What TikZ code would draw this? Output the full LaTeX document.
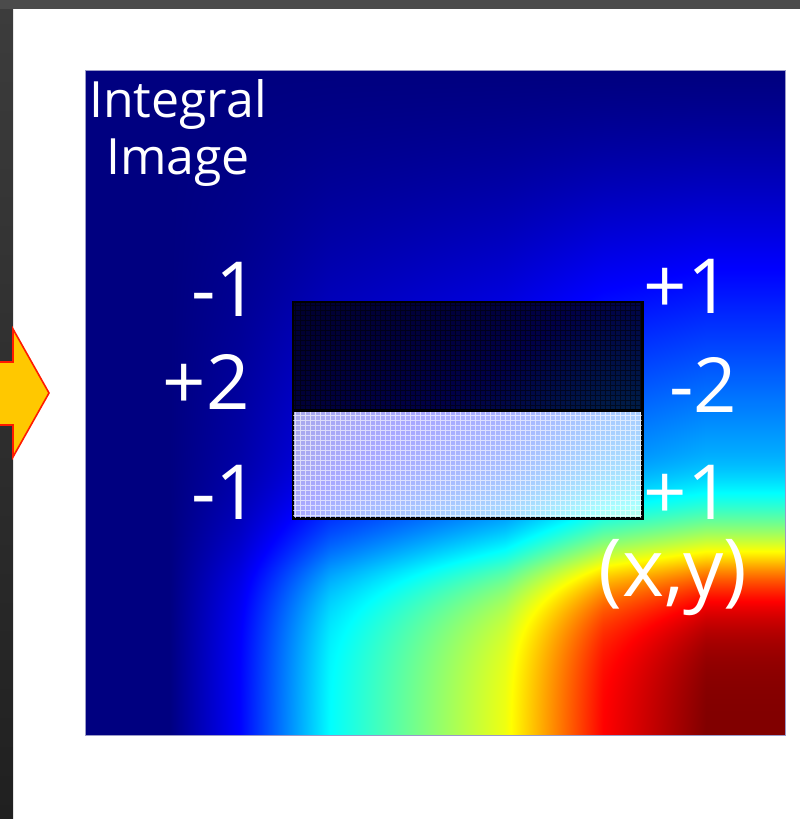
\documentclass[tikz,border=0pt]{standalone}
\usepackage{fontspec}
\setmainfont{Open Sans}
\usepackage{tikz}
\usetikzlibrary{positioning}
\definecolor{frametop}{HTML}{4B4B4B}
\definecolor{frameside}{HTML}{3C3C3C}
\definecolor{framelow}{HTML}{202020}
\definecolor{arrowfill}{HTML}{FFC800}
\definecolor{arrowedge}{HTML}{FF1A00}
\definecolor{imgedge}{HTML}{9A9AC8}

% jet colour map over a field that grows to the lower right
\pgfdeclarefunctionalshading{jetfield}{\pgfpointorigin}{\pgfpoint{100bp}{100bp}}{}{%
  exch 25 sub 50 div
  0
  1 index 0.12 sub 10 mul dup 0 lt {pop 0} if dup 1 gt {pop 1} if 0.125 mul add
  1 index 0.22 sub 7.6923 mul dup 0 lt {pop 0} if dup 1 gt {pop 1} if 0.25 mul add
  1 index 0.35 sub 4 mul dup 0 lt {pop 0} if dup 1 gt {pop 1} if 0.235 mul add
  1 index 0.6 sub 7.1429 mul dup 0 lt {pop 0} if dup 1 gt {pop 1} if 0.265 mul add
  1 index 0.74 sub 6.8 mul dup 0 lt {pop 0} if dup 1 gt {pop 1} if 0.125 mul add
  exch pop
  exch
  75 exch sub 50 div
  dup 0 lt {pop 0} if
  dup 1.3 exp 0.6 mul
  exch 0.57 sub dup 0 lt {pop 0} if dup mul 9.8 mul add
  dup 0.7 gt {0.7 sub -3.3333 mul 2.718282 exch exp -0.3 mul 1 add} if
  dup 1 gt {pop 1} if
  mul 4 mul
  dup 3 sub abs 1.5 exch sub
  dup 0 lt {pop 0} if dup 1 gt {pop 1} if
  exch
  dup 2 sub abs 1.5 exch sub
  dup 0 lt {pop 0} if dup 1 gt {pop 1} if
  exch
  1 sub abs 1.5 exch sub
  dup 0 lt {pop 0} if dup 1 gt {pop 1} if
}

\begin{document}
\begin{tikzpicture}[x=0.5pt,y=-0.5pt,
    num/.style={text=white,inner sep=0pt,font=\fontsize{38}{40}\selectfont},
    half/.style={draw=black,line width=0.75pt,minimum width=174.5pt,minimum height=54pt,inner sep=0pt},
    darkhalf/.style={half,fill=black,fill opacity=0.72},
    lighthalf/.style={half,fill=white,fill opacity=0.66},
    mesh/.style={line width=0.35pt,step=2.5pt}
  ]
  \clip (0,0) rectangle (800,819);
  \fill[white] (0,0) rectangle (800,819);
  % slide frame
  \fill[frametop] (0,0) rectangle (800,9);
  \shade[top color=frameside,bottom color=framelow] (0,9) rectangle (13,819);
  % the integral image
  \shade[shading=jetfield] (85,70) rectangle (785,735);
  \draw[imgedge,line width=0.4pt] (85,70) rectangle (785,735);
  \node[text=white,align=center,inner sep=0pt,font=\fontsize{25}{28.5}\selectfont] (title) at (178,133) {Integral\\Image};
  % the box filter
  \node[darkhalf] (upper) at (467.5,356) {};
  \node[lighthalf] (lower) at (467.5,464) {};
  \draw[mesh,black,opacity=0.55] (upper.south west) grid (upper.north east);
  \draw[mesh,white,opacity=0.6] (lower.south west) grid (lower.north east);
  \draw[line width=0.75pt] (upper.south west) rectangle (upper.north east);
  \draw[line width=0.75pt] (lower.south west) rectangle (lower.north east);
  % weights at the corners
  \node[num] (ltop) at (225,289) {-1};
  \node[num] (lmid) at (206,382) {+2};
  \node[num] (lbot) at (225,492) {-1};
  \node[num] (rtop) at (687,286) {+1};
  \node[num] (rmid) at (703,385) {-2};
  \node[num] (rbot) at (687,492) {+1};
  \node[text=white,inner sep=0pt,font=\fontsize{40}{42}\selectfont] (xy) at (673,578) {(x,y)};
  % arrow from the left
  \draw[arrowedge,fill=arrowfill,line width=0.8pt,line join=miter]
    (-10,362) -- (13,362) -- (13,329) -- (49,393) -- (13,457) -- (13,425) -- (-10,425) -- cycle;
\end{tikzpicture}
\end{document}
